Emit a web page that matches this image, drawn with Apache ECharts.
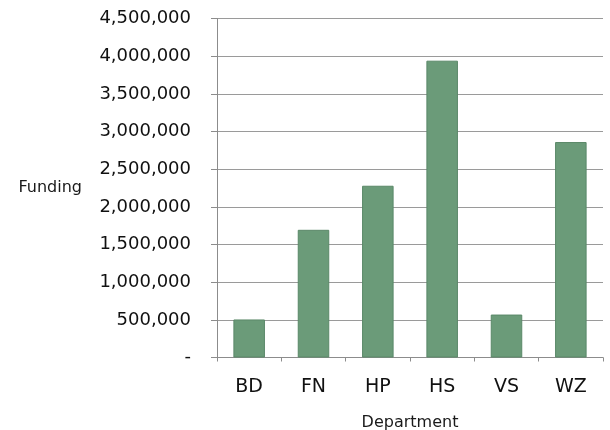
<!DOCTYPE html>
<html>
<head>
<meta charset="utf-8">
<script src="https://cdn.jsdelivr.net/npm/echarts@6/dist/echarts.min.js"></script>
<style>
  html, body { margin: 0; padding: 0; background: #fff; }
  #chart { width: 610px; height: 430px; }
</style>
</head>
<body>
<div id="chart"></div>
<script>
// departments on the x axis
var arrDepartments = ['BD', 'FN', 'HP', 'HS', 'VS', 'WZ'];
// funding per department
var arrFunding = [505000, 1695000, 2280000, 3940000, 570000, 2860000];
// y axis range
var iYMin = 0;
var iYMax = 4500000;
var iYStep = 500000;

var strFont = 'DejaVu Sans';

var fmtFunding = function (v) {
    if (v === 0) return '-';
    return String(v).replace(/\B(?=(\d{3})+(?!\d))/g, ',');
};

var oChart = echarts.init(document.getElementById('chart'));
var option = {
    animation: false,
    backgroundColor: '#fff',
    textStyle: { fontFamily: strFont },
    grid: { left: 217, right: 7, top: 18.5, bottom: 72.5, containLabel: false, outerBoundsMode: 'none' },
    xAxis: {
        type: 'category',
        data: arrDepartments,
        name: 'Department',
        nameLocation: 'middle',
        nameGap: 57,
        nameTextStyle: { fontFamily: strFont, fontSize: 16, color: '#1a1a1a' },
        axisLine: { lineStyle: { color: '#8c8c8c', width: 1 } },
        axisTick: { show: true, length: 4, lineStyle: { color: '#8c8c8c' } },
        axisLabel: { fontFamily: strFont, fontSize: 19, color: '#111', margin: 20 }
    },
    yAxis: {
        type: 'value',
        min: iYMin,
        max: iYMax,
        interval: iYStep,
        name: 'Funding',
        nameLocation: 'middle',
        nameRotate: 0,
        nameGap: 135,
        nameTextStyle: { fontFamily: strFont, fontSize: 16, color: '#1a1a1a', align: 'right', padding: [4, 0, 0, 0] },
        axisLine: { show: true, lineStyle: { color: '#8c8c8c', width: 1 } },
        axisTick: { show: true, length: 6, lineStyle: { color: '#8c8c8c' } },
        splitLine: { show: true, lineStyle: { color: '#9a9a9a', width: 1 } },
        axisLabel: { fontFamily: strFont, fontSize: 18, color: '#111', margin: 26, formatter: fmtFunding }
    },
    series: [{
        type: 'bar',
        data: arrFunding,
        barWidth: '49%',
        itemStyle: { color: '#6b9b79', borderColor: '#5a8868', borderWidth: 1 }
    }]
};
oChart.setOption(option);
</script>
</body>
</html>
